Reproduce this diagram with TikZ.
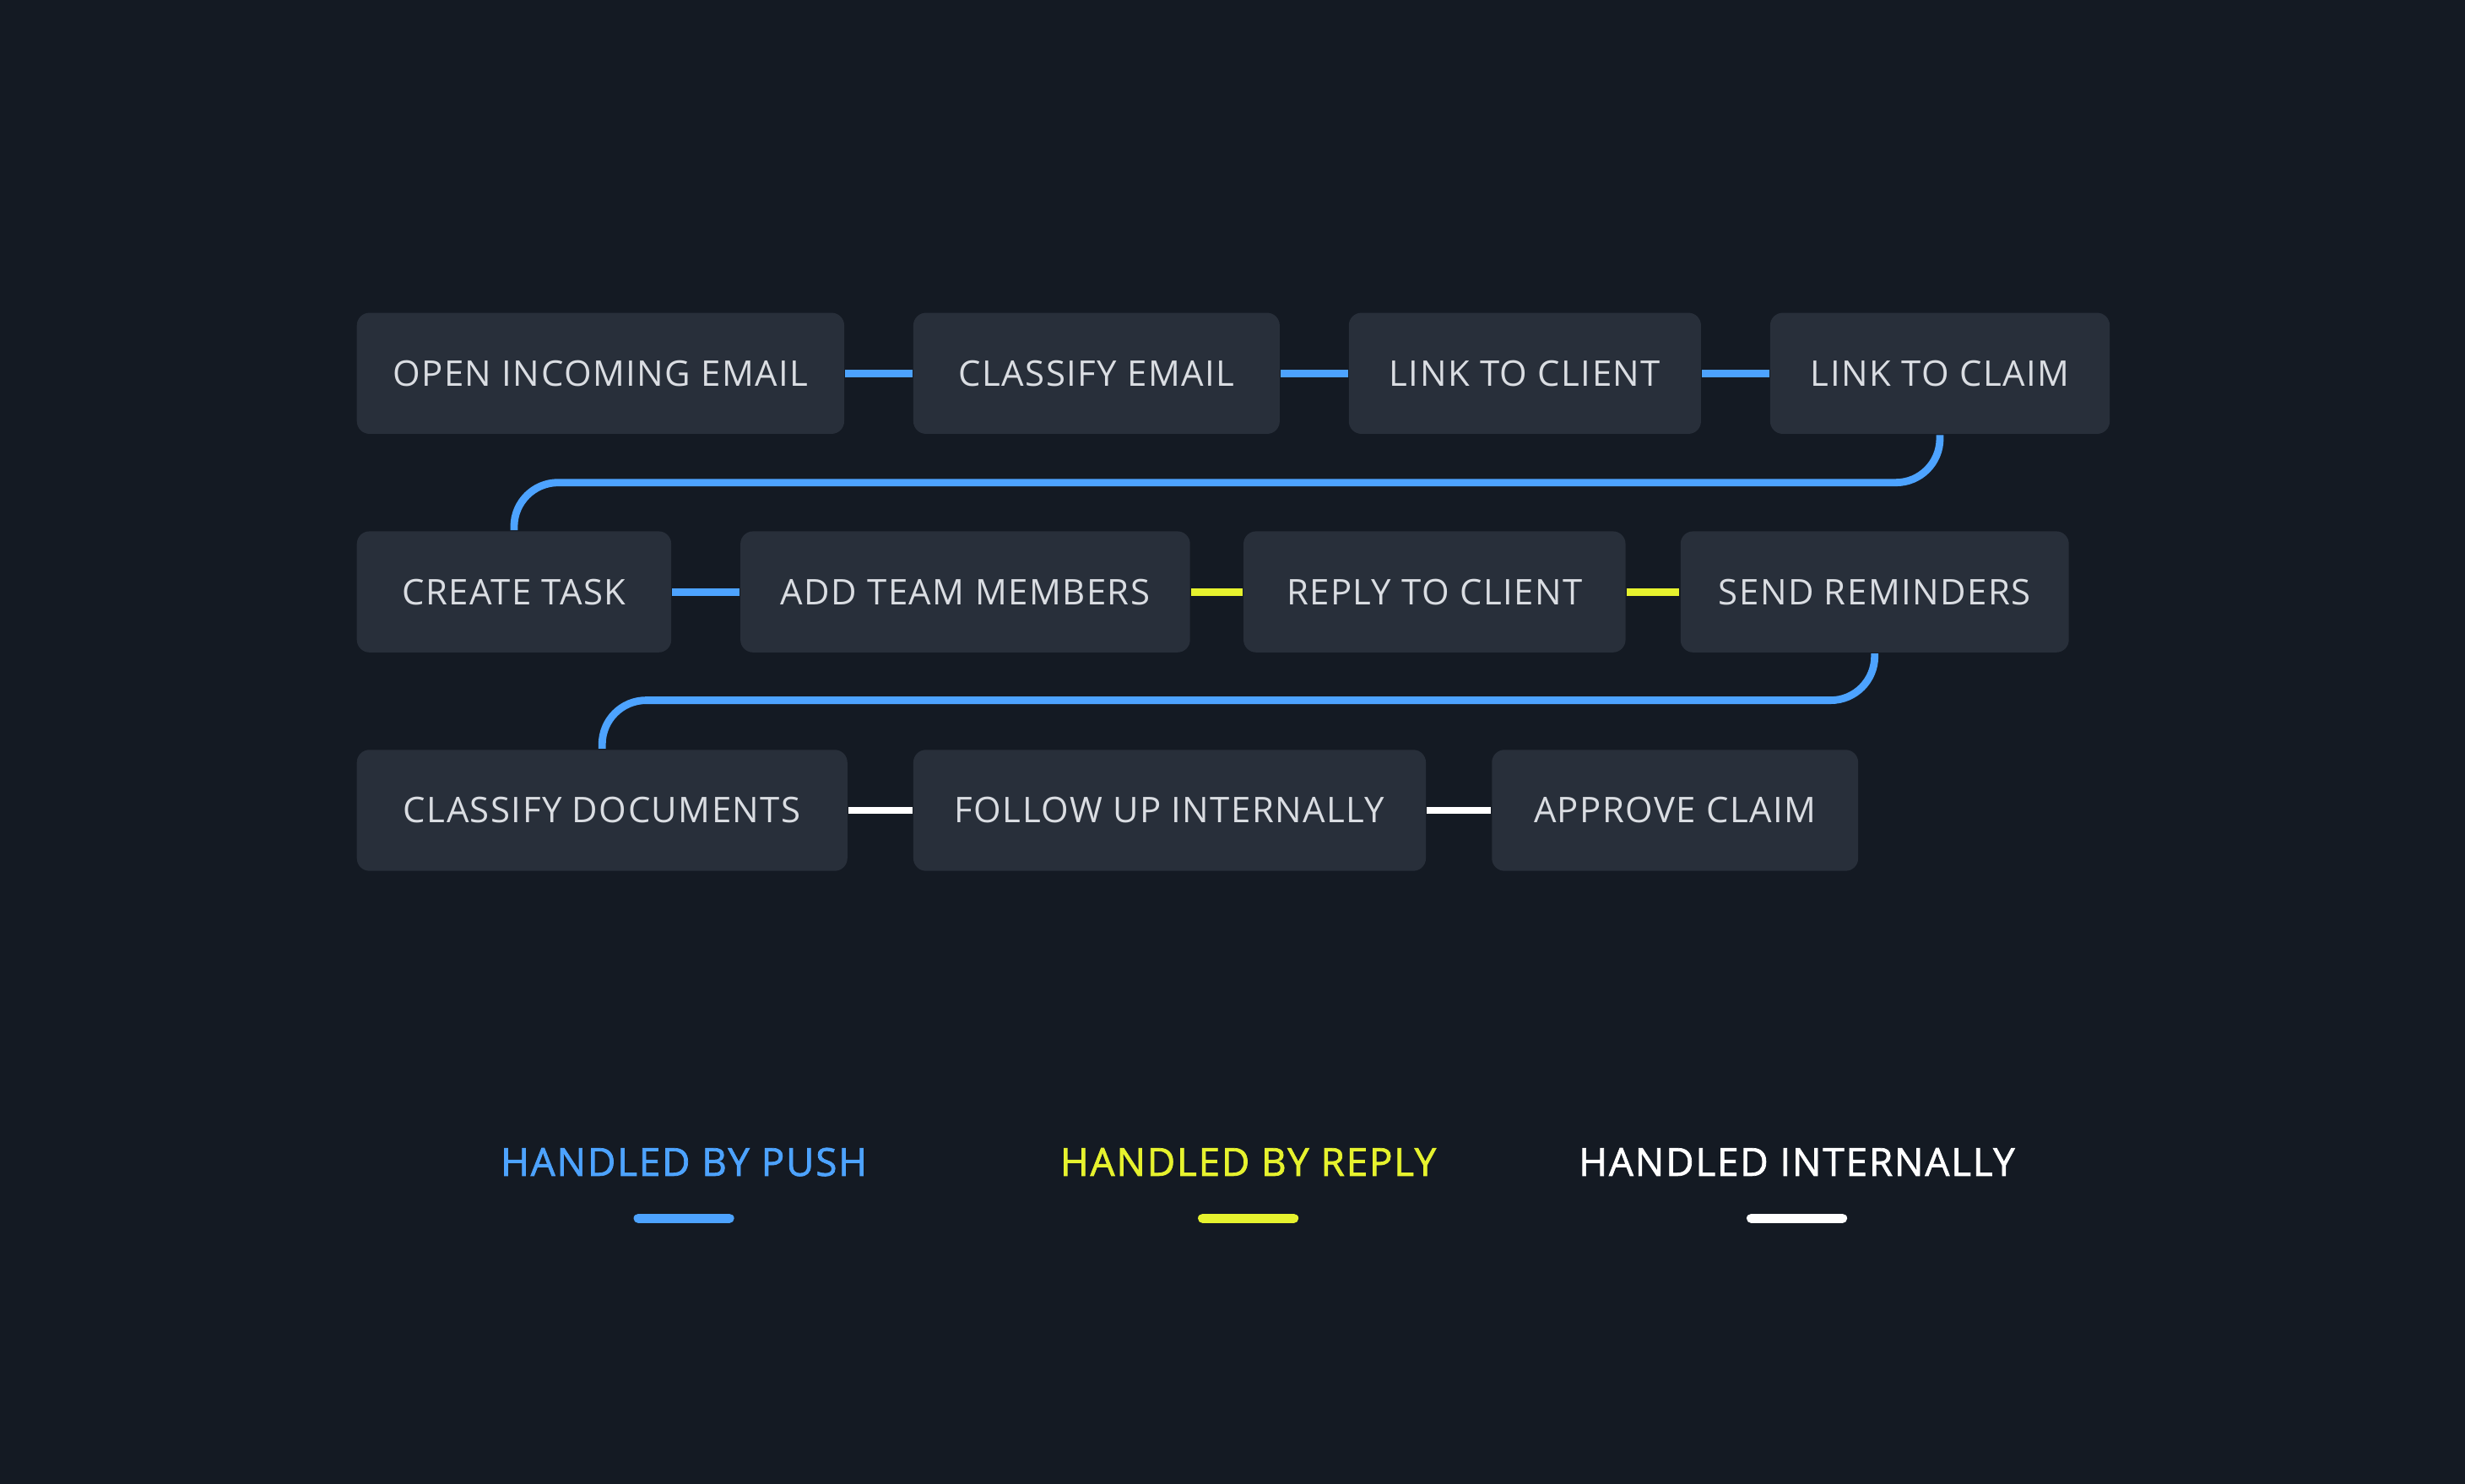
\documentclass[tikz,border=0pt]{standalone}
\usepackage{fontspec}
\setmainfont{Open Sans}[LetterSpace=3.5]
\usepackage{tikz}
\usetikzlibrary{arrows,arrows.meta,positioning}
\definecolor{bg}{HTML}{141A23}
\definecolor{boxc}{HTML}{282F3A}
\definecolor{txt}{HTML}{DADDE2}
\definecolor{pushc}{HTML}{4DA3FF}
\definecolor{replyc}{HTML}{E6F22E}
\newfontfamily\legendfont{Open Sans}[FakeBold=1.6,LetterSpace=4]

\begin{document}
\begin{tikzpicture}[x=0.1mm,y=-0.1mm]
  \fill[bg](0,0)rectangle(1568,944);
  \useasboundingbox(0,0)rectangle(1568,944);
  \tikzstyle{task}=[rectangle,fill=boxc,rounded corners=0.8mm,minimum height=7.7mm,inner sep=0pt,text=txt,font=\fontsize{6.4}{7.5}\selectfont]
  \tikzstyle{push}=[draw=pushc,line width=1.35pt]
  \tikzstyle{reply}=[draw=replyc,line width=1.35pt]
  \tikzstyle{intern}=[draw=white,line width=1.35pt]
  % row 1
  \node[task,minimum width=31mm](open)at(382,237.5){OPEN INCOMING EMAIL};
  \node[task,minimum width=23.3mm](clsemail)at(697.5,237.5){CLASSIFY EMAIL};
  \node[task,minimum width=22.4mm](client)at(970,237.5){LINK TO CLIENT};
  \node[task,minimum width=21.6mm](claim)at(1234,237.5){LINK TO CLAIM};
  % row 2
  \node[task,minimum width=20mm](task)at(327,376.5){CREATE TASK};
  \node[task,minimum width=28.6mm](team)at(614,376.5){ADD TEAM MEMBERS};
  \node[task,minimum width=24.3mm](reply)at(912.5,376.5){REPLY TO CLIENT};
  \node[task,minimum width=24.7mm](remind)at(1192.5,376.5){SEND REMINDERS};
  % row 3
  \node[task,minimum width=31.2mm](docs)at(383,515.5){CLASSIFY DOCUMENTS};
  \node[task,minimum width=32.6mm](follow)at(744,515.5){FOLLOW UP INTERNALLY};
  \node[task,minimum width=23.3mm](approve)at(1065.5,515.5){APPROVE CLAIM};
  \foreach\o/\d/\s in{open/clsemail/push,clsemail/client/push,client/claim/push,task/team/push,team/reply/reply,reply/remind/reply,docs/follow/intern,follow/approve/intern}{\draw[\s](\o.east)--(\d.west);}
  % wrap-around links
  \coordinate(m1)at(0,307);
  \coordinate(m2)at(0,445.5);
  \draw[push,rounded corners=2.8mm](claim.south)--(claim.south|-m1)--(task.north|-m1)--(task.north);
  \draw[push,rounded corners=2.8mm](remind.south)--(remind.south|-m2)--(docs.north|-m2)--(docs.north);
  % legend
  \tikzstyle{lab}=[anchor=base,inner sep=0pt,font=\legendfont\fontsize{7}{8}\selectfont]
  \tikzstyle{bar}=[line width=1.7pt,line cap=round]
  \node[lab,text=pushc](lpush)at(435,748){HANDLED BY PUSH};
  \node[lab,text=replyc](lreply)at(794,748){HANDLED BY REPLY};
  \node[lab,text=white](lintern)at(1143,748){HANDLED INTERNALLY};
  \foreach\n/\c in{lpush/pushc,lreply/replyc,lintern/white}{
    \coordinate(\n-a)at([xshift=-2.9mm,yshift=-2.7mm]\n.base);
    \coordinate(\n-b)at([xshift=2.9mm,yshift=-2.7mm]\n.base);
    \draw[bar,draw=\c](\n-a)--(\n-b);}
\end{tikzpicture}
\end{document}
